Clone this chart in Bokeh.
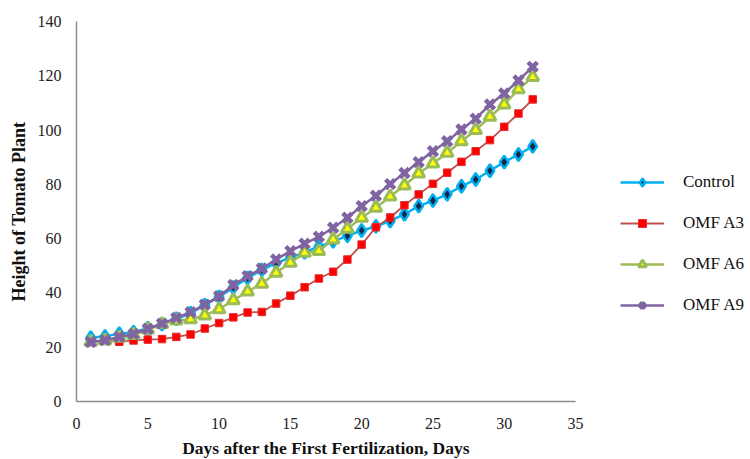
from bokeh.plotting import figure
from bokeh.models import Legend, LegendItem, Range1d, FixedTicker
from bokeh.embed import file_html
from bokeh.resources import INLINE

days = list(range(1, 33))
control = [23.5, 24, 25, 25.5, 27, 28.5, 30.5, 32.5, 35.5, 38.5, 42, 45.5, 48.5, 51, 53, 55,
           57, 59, 61, 63, 64.5, 66.5, 69, 72, 74, 76.3, 79.3, 81.8, 85, 88.2, 91, 94]
omf_a3 = [22, 22.5, 22, 22.5, 22.8, 23, 23.8, 24.7, 26.9, 28.9, 31, 32.8, 33, 36.1, 39, 42.1,
          45.3, 47.8, 52.3, 57.8, 64.2, 67.8, 72.3, 76.3, 80.2, 84.3, 88.3, 92.2, 96.3, 101.2, 106.1, 111.3]
omf_a6 = [22, 22.5, 23.5, 24.5, 26.5, 28.5, 29.8, 30.3, 31.7, 34, 37.3, 40.5, 43.4, 47.4, 51.1, 54.8,
          55.4, 59.7, 63.6, 67.7, 71.4, 75.5, 79.6, 84, 87.7, 91.6, 95.9, 100, 104.9, 109.4, 115, 119.5]
omf_a9 = [21.9, 22.6, 23.8, 24.9, 26.8, 28.7, 30.8, 32.9, 35.7, 38.8, 42.9, 46.2, 49, 52.3, 55.4, 58.1,
          60.7, 64, 67.7, 72, 75.8, 80.1, 84.2, 88.2, 92.2, 95.9, 100.2, 104.2, 109.4, 113.5, 118.3, 123.3]
x_ticks = [0, 5, 10, 15, 20, 25, 30, 35]
y_ticks = [0, 20, 40, 60, 80, 100, 120, 140]

FONT = "Liberation Serif"

p = figure(frame_width=499, frame_height=380, output_backend="svg", toolbar_location=None,
           x_range=Range1d(0, 35), y_range=Range1d(0, 140),
           min_border_left=76, min_border_top=21, min_border_bottom=42, min_border_right=159)
p.outline_line_color = None
p.xgrid.grid_line_color = None
p.ygrid.grid_line_color = None

for ax in (p.xaxis[0], p.yaxis[0]):
    ax.axis_line_color = "#8c8c8c"
    ax.axis_line_width = 1.5
    ax.major_tick_line_color = None
    ax.minor_tick_line_color = None
    ax.major_label_text_font = FONT
    ax.major_label_text_font_size = "16px"
    ax.major_label_text_color = "#222222"
    ax.axis_label_text_font = FONT
    ax.axis_label_text_font_style = "bold"
    ax.axis_label_text_color = "#111111"

p.xaxis.axis_label_text_font_size = "17.5px"
p.yaxis.axis_label_text_font_size = "18px"
p.xaxis.ticker = FixedTicker(ticks=x_ticks)
p.yaxis.ticker = FixedTicker(ticks=y_ticks)
p.xaxis.axis_label = "Days after the First Fertilization, Days"
p.yaxis.axis_label = "Height of Tomato Plant"
p.xaxis.major_label_standoff = 10
p.xaxis.axis_label_standoff = 6
p.yaxis.major_label_standoff = 9
p.yaxis.axis_label_standoff = 6

c_line = p.line(days, control, line_color="#00B0F0", line_width=2.5)
c_mark = p.scatter(days, control, marker="diamond", size=13, fill_color="#14284B",
                   line_color="#00B0F0", line_width=2.5)
r_line = p.line(days, omf_a3, line_color="#C0504D", line_width=1.8)
r_mark = p.scatter(days, omf_a3, marker="square", size=7.5, fill_color="#FF0000",
                   line_color="#E03030", line_width=1)
g_line = p.line(days, omf_a6, line_color="#9BBB59", line_width=2.5)
g_mark = p.scatter(days, omf_a6, marker="triangle", size=12, fill_color="#FFFF00",
                   line_color="#9BBB59", line_width=3)
v_line = p.line(days, omf_a9, line_color="#8064A2", line_width=2.5)
v_mark = p.scatter(days, omf_a9, marker="x", size=13, line_color="#8064A2", line_width=4.5)

legend = Legend(items=[
    LegendItem(label="Control", renderers=[c_line, c_mark]),
    LegendItem(label="OMF A3", renderers=[r_line, r_mark]),
    LegendItem(label="OMF A6", renderers=[g_line, g_mark]),
    LegendItem(label="OMF A9", renderers=[v_line, v_mark]),
], location=(45, 86))
legend.label_text_font = FONT
legend.label_text_font_size = "17px"
legend.label_text_color = "#111111"
legend.glyph_width = 44
legend.glyph_height = 20
legend.label_height = 20
legend.spacing = 21
legend.label_standoff = 19
legend.padding = 0
legend.margin = 0
legend.border_line_color = None
legend.background_fill_alpha = 0
p.add_layout(legend, "right")

open("out.html", "w").write(file_html(p, INLINE))
